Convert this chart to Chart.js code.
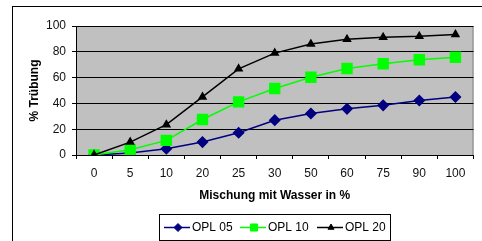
<!DOCTYPE html>
<html>
<head>
<meta charset="utf-8">
<script src="https://cdn.jsdelivr.net/npm/chart.js@4/dist/chart.umd.min.js"></script>
<style>
  html, body { margin: 0; padding: 0; background: #fff; }
  #wrap { width: 482px; height: 241px; }
</style>
</head>
<body>
<div id="wrap"><canvas id="chart" width="482" height="241"></canvas></div>
<script>
const labels = ['0', '5', '10', '20', '25', '30', '50', '60', '75', '90', '100'];
const opl05 = [0, 1.5, 4.8, 10, 17.2, 27, 32.2, 35.8, 38.5, 42.2, 45];
const opl10 = [0, 4, 11.3, 27.5, 41.2, 51.5, 60.3, 67, 70.7, 73.8, 75.8];
const opl20 = [0, 10, 23.5, 45, 66.8, 79, 86, 89.7, 91.2, 92, 93.5];
const yTicks = [0, 20, 40, 60, 80, 100];

const FONT = 'Arial, "Liberation Sans", sans-serif';

// grey plot area + outer frame
const background = {
    id: 'background',
    beforeDraw(chart) {
        const { ctx, chartArea: a } = chart;
        ctx.save();
        ctx.fillStyle = '#fff';
        ctx.fillRect(0, 0, chart.width, chart.height);
        ctx.strokeStyle = '#000';
        ctx.lineWidth = 1;
        ctx.strokeRect(12.5, 6.5, 500, 300);
        ctx.fillStyle = '#c0c0c0';
        ctx.fillRect(a.left, a.top, a.right - a.left, a.bottom - a.top);
        ctx.strokeStyle = '#808080';
        ctx.strokeRect(a.left + 0.5, a.top + 0.5, a.right - a.left - 1, a.bottom - a.top);
        ctx.restore();
    }
};

// boxed legend with line + marker samples
const boxLegend = {
    id: 'boxLegend',
    afterDraw(chart) {
        const ctx = chart.ctx;
        ctx.save();
        ctx.fillStyle = '#fff';
        ctx.fillRect(159.5, 214.5, 231, 26);
        ctx.strokeStyle = '#000';
        ctx.lineWidth = 1;
        ctx.strokeRect(159.5, 214.5, 231, 26);
        const starts = [164, 240, 317];
        const y = 227.5;
        ctx.font = '12px ' + FONT;
        ctx.textBaseline = 'middle';
        chart.data.datasets.forEach((ds, i) => {
            const x0 = starts[i];
            ctx.strokeStyle = ds.borderColor;
            ctx.lineWidth = 1.5;
            ctx.beginPath();
            ctx.moveTo(x0, y);
            ctx.lineTo(x0 + 26, y);
            ctx.stroke();
            ctx.fillStyle = ds.pointBackgroundColor;
            ctx.strokeStyle = ds.pointBorderColor;
            ctx.lineWidth = 1;
            Chart.helpers.drawPoint(ctx, { pointStyle: ds.pointStyle, radius: ds.legendRadius, rotation: 0, borderWidth: 1 }, x0 + 14, y);
            ctx.fillStyle = '#000';
            ctx.fillText(ds.label, x0 + 28, y + 0.5);
        });
        ctx.restore();
    }
};

const data = {
    labels: labels,
    datasets: [{
        label: 'OPL 05',
        data: opl05,
        borderColor: '#000080',
        backgroundColor: '#000080',
        pointBackgroundColor: '#000080',
        pointBorderColor: '#000080',
        pointStyle: 'rectRot',
        pointRadius: 5,
        legendRadius: 4,
        borderWidth: 1.5,
        order: 3
    }, {
        label: 'OPL 10',
        data: opl10,
        borderColor: '#00ff00',
        backgroundColor: '#00ff00',
        pointBackgroundColor: '#00ff00',
        pointBorderColor: '#00ff00',
        pointStyle: 'rect',
        pointRadius: 7,
        legendRadius: 5,
        borderWidth: 1.5,
        order: 2
    }, {
        label: 'OPL 20',
        data: opl20,
        borderColor: '#000',
        backgroundColor: '#000',
        pointBackgroundColor: '#000',
        pointBorderColor: '#000',
        pointStyle: 'triangle',
        pointRadius: 4,
        legendRadius: 3.5,
        borderWidth: 1.5,
        order: 1
    }]
};

const config = {
    type: 'line',
    data: data,
    options: {
        responsive: false,
        animation: false,
        layout: { padding: { left: 12, top: 26, right: 5, bottom: 0 } },
        elements: { line: { tension: 0 }, point: { borderWidth: 1, hoverRadius: 5 } },
        scales: {
            x: {
                offset: true,
                grid: { offset: true, drawOnChartArea: false, drawTicks: true, tickLength: 4, color: '#000' },
                border: { color: '#000', width: 1 },
                ticks: { color: '#111', font: { family: FONT, size: 12 }, padding: 7, maxRotation: 0, autoSkip: false },
                title: { display: true, text: 'Mischung mit Wasser in %', color: '#000', font: { family: FONT, size: 12, weight: 'bold' }, padding: { top: 0, bottom: 38 } },
                afterFit(scale) { scale.height = 86; }
            },
            y: {
                min: 0,
                max: 100,
                afterBuildTicks(scale) { scale.ticks = yTicks.map(v => ({ value: v })); },
                grid: { color: '#000', lineWidth: 1, tickLength: 4 },
                border: { color: '#000', width: 1 },
                ticks: { color: '#111', font: { family: FONT, size: 12 }, padding: 6 },
                title: { display: true, text: '% Trübung', color: '#000', font: { family: FONT, size: 12, weight: 'bold' }, padding: { top: 15, bottom: 0 } },
                afterFit(scale) { scale.width = 64; }
            }
        },
        plugins: {
            legend: { display: false },
            tooltip: { enabled: false }
        }
    },
    plugins: [background, boxLegend]
};

const chart = new Chart(document.getElementById('chart').getContext('2d'), config);
</script>
</body>
</html>
